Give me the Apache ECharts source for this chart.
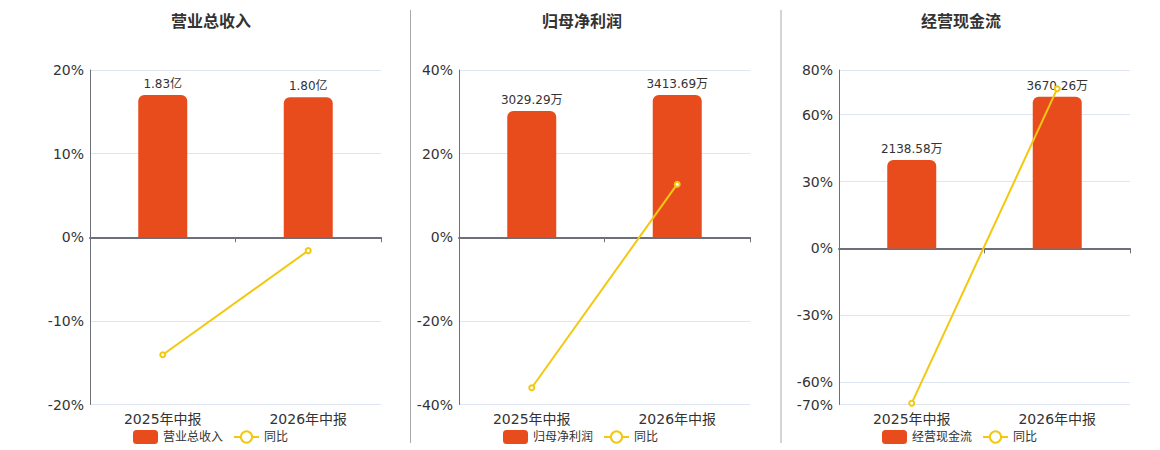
<!DOCTYPE html>
<html>
<head>
<meta charset="utf-8">
<script src="https://cdn.jsdelivr.net/npm/echarts@6/dist/echarts.min.js"></script>
<style>
  html, body { margin: 0; padding: 0; background: #fff; }
  #main { width: 1160px; height: 450px; }
</style>
</head>
<body>
<div id="main"></div>
<script>
  // 数据
  var categories = ['2025年中报', '2026年中报'];
  var titles = ['营业总收入', '归母净利润', '经营现金流'];
  var units = ['亿', '万', '万'];
  var revenue = [1.83, 1.80];
  var revenueYoy = [-14.05, -1.6];
  var profit = [3029.29, 3413.69];
  var profitYoy = [-36.0, 12.69];
  var cash = [2138.58, 3670.26];
  var cashYoy = [-69.4, 71.62];
  // 刻度
  var revenueTicks = [-20, -10, 0, 10, 20];
  var profitTicks = [-40, -20, 0, 20, 40];
  var cashTicks = [-70, -60, -30, 0, 30, 60, 80];

  var bars = [revenue, profit, cash];
  var lines = [revenueYoy, profitYoy, cashYoy];
  var ticks = [revenueTicks, profitTicks, cashTicks];

  // 布局
  var gridLeft = [90, 459, 839];
  var titleLeft = [166, 537, 916];
  var legendLeft = [128, 498, 877];
  var barColor = '#E84C1D';
  var lineColor = '#F2C811';
  var axisColor = '#6E7079';

  var option = {
    title: [],
    legend: [],
    grid: [],
    xAxis: [],
    yAxis: [],
    series: [],
    graphic: [
      { type: 'line', shape: { x1: 410.5, y1: 10, x2: 410.5, y2: 443 }, style: { stroke: '#aaa', lineWidth: 1 } },
      { type: 'line', shape: { x1: 781, y1: 10, x2: 781, y2: 443 }, style: { stroke: '#aaa', lineWidth: 1 } }
    ],
    textStyle: { fontFamily: '"DejaVu Sans", "Noto Sans CJK SC", sans-serif' }
  };

  for (var i = 0; i < 3; i++) {
    var t = ticks[i];
    var lo = t[0], hi = t[t.length - 1];
    var barTop = Math.max.apply(null, bars[i]) * 1.176;
    option.title.push({
      text: titles[i], left: titleLeft[i], top: 8,
      textStyle: { fontSize: 16, fontWeight: 'bold', color: '#333' }
    });
    option.legend.push({
      data: [titles[i], '同比'], left: legendLeft[i], top: 425,
      itemWidth: 25, itemHeight: 14, itemGap: 10,
      textStyle: { fontSize: 12, color: '#333' }
    });
    option.grid.push({ left: gridLeft[i], width: 291, top: 70, height: 334.5 });
    // 底部标签轴
    option.xAxis.push({
      type: 'category', gridIndex: i, data: categories, position: 'bottom',
      axisLine: { show: false, onZero: false }, axisTick: { show: false },
      axisLabel: { fontSize: 14, color: '#333', margin: 7 }
    });
    // 零线
    option.xAxis.push({
      type: 'category', gridIndex: i, data: categories, position: 'bottom',
      axisLine: { onZero: true, lineStyle: { color: axisColor, width: 2 } },
      axisTick: { show: true, length: 5, lineStyle: { color: axisColor } },
      axisLabel: { show: false }
    });
    option.yAxis.push({
      type: 'value', gridIndex: i, min: lo, max: hi,
      axisLine: { show: true, lineStyle: { color: axisColor } },
      axisTick: { show: false, customValues: t },
      axisLabel: { customValues: t, formatter: '{value}%', fontSize: 14, color: '#333', margin: 6 },
      splitLine: { lineStyle: { color: '#E0E6F1' } }
    });
    option.yAxis.push({
      type: 'value', gridIndex: i, show: false,
      min: barTop * lo / hi, max: barTop,
      splitLine: { show: false }
    });
    (function (unit) {
      option.series.push({
        name: titles[i], type: 'bar', xAxisIndex: 2 * i, yAxisIndex: 2 * i + 1,
        data: bars[i], barWidth: 49,
        itemStyle: { color: barColor, borderRadius: [6, 6, 0, 0] },
        label: {
          show: true, position: 'top', fontSize: 12, color: '#333',
          formatter: function (p) { return p.value.toFixed(2) + unit; }
        }
      });
    })(units[i]);
    option.series.push({
      name: '同比', type: 'line', xAxisIndex: 2 * i, yAxisIndex: 2 * i,
      data: lines[i], symbol: 'emptyCircle', symbolSize: 5,
      itemStyle: { color: lineColor }, lineStyle: { color: lineColor, width: 2 }
    });
  }

  var myChart = echarts.init(document.getElementById('main'), null, { renderer: 'svg' });
  myChart.setOption(option);
</script>
</body>
</html>
